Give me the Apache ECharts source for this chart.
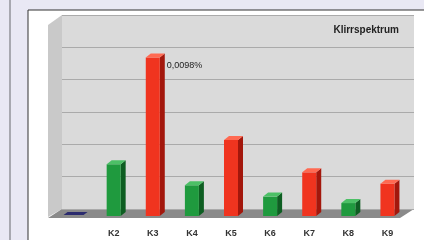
<!DOCTYPE html>
<html>
<head>
<meta charset="utf-8">
<script src="https://cdn.jsdelivr.net/npm/echarts@6/dist/echarts.min.js"></script>
<style>
  html, body { margin: 0; padding: 0; background: #e9e8f4; }
  #chart { width: 424px; height: 240px; }
</style>
</head>
<body>
<div id="chart"></div>
<script>
// harmonics K1..K9 (K1 has no label)
var categories = ['', 'K2', 'K3', 'K4', 'K5', 'K6', 'K7', 'K8', 'K9'];
var values = [0.0001, 0.0032, 0.0098, 0.0019, 0.0047, 0.0012, 0.0027, 0.0008, 0.0020];
var kinds = ['base', 'even', 'odd', 'even', 'odd', 'even', 'odd', 'even', 'odd'];
var valueLabels = ['', '', '0,0098%', '', '', '', '', '', ''];

var palette = {
  base: { front: '#2b2b6e', side: '#1a1a48', top: '#44448a' },
  even: { front: '#1f9a3e', side: '#0e5e22', top: '#4cc066' },
  odd: { front: '#f0341f', side: '#a3170c', top: '#ff6a52' }
};

var chart = echarts.init(document.getElementById('chart'));

function renderBar(params, api) {
  var i = api.value(0);
  var top = api.coord([i, api.value(1)]);
  var base = api.coord([i, 0]);
  var c = palette[kinds[i]];
  // front plane sits a bit left/down of the back wall
  var cx = top[0] - 7, ty = top[1] + 7, by = base[1] + 7;
  var w = 14, d = 5;
  var l = cx - w / 2, r = cx + w / 2;
  var children = [
    { type: 'polygon', shape: { points: [[r, ty], [r + d, ty - 4], [r + d, by - 4], [r, by]] }, style: { fill: c.side } },
    { type: 'rect', shape: { x: l, y: ty, width: w, height: by - ty }, style: { fill: c.front } },
    { type: 'polygon', shape: { points: [[l, ty], [r, ty], [r + d, ty - 4], [l + d, ty - 4]] }, style: { fill: c.top } }
  ];
  if (kinds[i] === 'base') {
    children = [{ type: 'polygon', shape: { points: [[l - 4, by - 1], [r + 2, by - 1], [r + 6, by - 4], [l, by - 4]] }, style: { fill: c.front } }];
  }
  if (valueLabels[i]) {
    children.push({ type: 'text', style: { text: valueLabels[i], x: r + d + 2, y: ty + 3, fill: '#222', font: '9px "Liberation Sans", Arial, sans-serif', textVerticalAlign: 'top' } });
  }
  return { type: 'group', children: children };
}

chart.setOption({
  backgroundColor: '#e9e8f4',
  animation: false,
  title: {
    text: 'Klirrspektrum',
    right: 20, top: 20,
    textStyle: { fontSize: 10, fontWeight: 'bold', color: '#222', fontFamily: '"Liberation Sans", Arial, sans-serif' }
  },
  graphic: [
    { type: 'rect', z: -10, shape: { x: 9, y: 0, width: 2, height: 240 }, style: { fill: '#a8a8b0' } },
    { type: 'rect', z: -10, shape: { x: 28, y: 10, width: 400, height: 235 }, style: { fill: '#ffffff', stroke: '#333333', lineWidth: 1 } },
    { type: 'polygon', z: -5, shape: { points: [[48, 25], [62, 15], [62, 209], [48, 217]] }, style: { fill: '#c9c9c9' } },
    { type: 'polygon', z: -5, shape: { points: [[48, 218], [400, 218], [414, 209], [62, 209]] }, style: { fill: '#8a8a8a' } }
  ],
  grid: {
    left: 62, right: 10, top: 15, bottom: 31,
    show: true, backgroundColor: '#dadada', borderWidth: 0
  },
  xAxis: {
    type: 'category',
    data: categories,
    axisLine: { show: false },
    axisTick: { show: false },
    axisLabel: {
      margin: 20, padding: [0, 14, 0, 0],
      fontSize: 9, fontWeight: 'bold', color: '#333',
      fontFamily: '"Liberation Sans", Arial, sans-serif'
    }
  },
  yAxis: {
    type: 'value',
    min: 0, max: 0.012, interval: 0.002,
    axisLabel: { show: false },
    axisLine: { show: false },
    axisTick: { show: false },
    splitLine: { lineStyle: { color: '#aaaaaa', width: 1 } }
  },
  series: [{
    type: 'custom',
    renderItem: renderBar,
    data: values.map(function (v, i) { return [i, v]; }),
    z: 10
  }]
});
</script>
</body>
</html>
